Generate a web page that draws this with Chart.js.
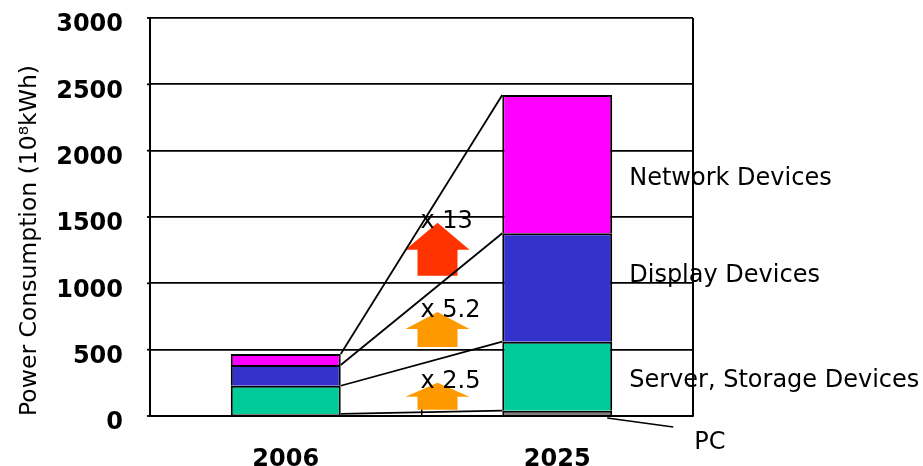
<!DOCTYPE html>
<html>
<head>
<meta charset="utf-8">
<script src="https://cdn.jsdelivr.net/npm/chart.js@4.4.1/dist/chart.umd.min.js"></script>
<style>
  html, body { margin: 0; padding: 0; background: #fff; }
  #wrap { width: 923px; height: 466px; }
</style>
</head>
<body>
<div id="wrap"><canvas id="chart" width="923" height="466"></canvas></div>
<script>
/* ---- Dados ---- */
const years         = ['2006', '2025'];
const pcValues      = [16, 40];
const serverValues  = [212, 520];
const displayValues = [156, 817];
const networkValues = [83, 1043];
const yTicks        = [0, 500, 1000, 1500, 2000, 2500, 3000];

const seriesNames   = ['PC', 'Server, Storage Devices', 'Display Devices', 'Network Devices'];
const seriesColors  = ['#808080', '#00CC99', '#3333CC', '#FF00FF'];
const labelValues   = [-180, 286, 1078, 1809];   // altura (em unidades do eixo) dos rótulos laterais

const growthLabels  = ['x 2.5', 'x 5.2', 'x 13'];
const growthTips    = [251, 784, 1457];          // ponta das setas (unidades do eixo)
const growthColors  = ['#FF9900', '#FF9900', '#FF3300'];
const arrowSizes    = [[14, 27], [17, 35], [27, 53]]; // [cabeça, comprimento] em px

const FONT = '"DejaVu Sans", Verdana, sans-serif';

/* ---- Plugin: moldura, setas, linhas de ligação e rótulos ---- */
const annotate = {
  id: 'annotate',
  afterDatasetsDraw(chart) {
    const { ctx, chartArea, scales: { y } } = chart;
    const metas = chart.data.datasets.map((d, i) => chart.getDatasetMeta(i));
    const b0 = metas[0].data[0], b1 = metas[0].data[1];
    const x0 = b0.x + b0.width / 2;   // borda direita da barra 2006
    const x1 = b1.x - b1.width / 2;   // borda esquerda da barra 2025
    const xR = b1.x + b1.width / 2;   // borda direita da barra 2025
    const mid = (x0 + x1) / 2;
    const base = y.getPixelForValue(0);

    ctx.save();

    // moldura direita + pequenas marcas do eixo y
    ctx.strokeStyle = '#000';
    ctx.lineWidth = 2;
    ctx.beginPath();
    ctx.moveTo(chartArea.right, chartArea.top);
    ctx.lineTo(chartArea.right, chartArea.bottom);
    ctx.stroke();
    ctx.lineWidth = 1.8;
    y.ticks.forEach(t => {
      const py = y.getPixelForValue(t.value);
      ctx.beginPath();
      ctx.moveTo(chartArea.left - 3, py);
      ctx.lineTo(chartArea.left, py);
      ctx.stroke();
    });

    // setas
    growthTips.forEach((v, i) => {
      const tip = y.getPixelForValue(v);
      const [head, len] = arrowSizes[i];
      const cx = mid + 16;
      ctx.fillStyle = growthColors[i];
      ctx.beginPath();
      ctx.moveTo(cx, tip);
      ctx.lineTo(cx + 32, tip + head);
      ctx.lineTo(cx + 20, tip + head);
      ctx.lineTo(cx + 20, tip + len);
      ctx.lineTo(cx - 20, tip + len);
      ctx.lineTo(cx - 20, tip + head);
      ctx.lineTo(cx - 32, tip + head);
      ctx.closePath();
      ctx.fill();
    });

    // linhas ligando o topo de cada segmento
    ctx.strokeStyle = '#000';
    ctx.lineWidth = 1.8;
    metas.forEach(m => {
      ctx.beginPath();
      ctx.moveTo(x0, m.data[0].y);
      ctx.lineTo(x1, m.data[1].y);
      ctx.stroke();
    });

    // linha de chamada do PC
    ctx.lineWidth = 1.5;
    ctx.beginPath();
    ctx.moveTo(xR - 5, base + 2);
    ctx.lineTo(xR + 61, base + 11);
    ctx.stroke();

    // textos
    ctx.fillStyle = '#000';
    ctx.font = `24px ${FONT}`;
    ctx.textBaseline = 'middle';
    ctx.textAlign = 'left';
    growthLabels.forEach((t, i) => {
      ctx.fillText(t, mid - 1, y.getPixelForValue(growthTips[i]) - 1);
    });
    seriesNames.forEach((name, i) => {
      const lx = i === 0 ? xR + 82 : xR + 17;
      ctx.fillText(name, lx, y.getPixelForValue(labelValues[i]) + 3);
    });

    ctx.restore();
  }
};

/* ---- Gráfico ---- */
const valueSets = [pcValues, serverValues, displayValues, networkValues];

new Chart(document.getElementById('chart').getContext('2d'), {
  type: 'bar',
  data: {
    labels: years,
    datasets: valueSets.map((vals, i) => ({
      label: seriesNames[i],
      data: vals,
      backgroundColor: seriesColors[i],
      borderColor: '#000',
      borderWidth: 2,
      barPercentage: 0.405,
      categoryPercentage: 1
    }))
  },
  options: {
    responsive: false,
    animation: false,
    layout: { padding: { top: 18, right: 230, left: 0, bottom: 0 } },
    plugins: {
      legend: { display: false },
      tooltip: { enabled: false }
    },
    scales: {
      x: {
        stacked: true,
        grid: { offset: true, drawOnChartArea: false, drawTicks: true, tickLength: -7, color: '#000', lineWidth: 1.5 },
        border: { color: '#000', width: 2 },
        ticks: { font: { family: FONT, size: 24, weight: 'bold' }, color: '#000', padding: 36 },
        afterFit: s => { s.height = 50; }
      },
      y: {
        stacked: true,
        min: 0,
        max: 3000,
        afterBuildTicks: s => { s.ticks = yTicks.map(v => ({ value: v })); },
        grid: { color: '#000', lineWidth: 1.8, tickLength: 27, tickColor: 'rgba(0,0,0,0)' },
        border: { color: '#000', width: 2 },
        ticks: {
          font: { family: FONT, size: 24, weight: 'bold' },
          color: '#000',
          padding: 0,
          labelOffset: 7,
          callback: v => String(v)
        },
        title: {
          display: true,
          text: 'Power Consumption (10⁸kWh)',
          align: 'start',
          color: '#000',
          font: { family: FONT, size: 23.5 },
          padding: { top: 16, bottom: 0 }
        },
        afterFit: s => { s.width = 150; }
      }
    }
  },
  plugins: [annotate]
});
</script>
</body>
</html>
